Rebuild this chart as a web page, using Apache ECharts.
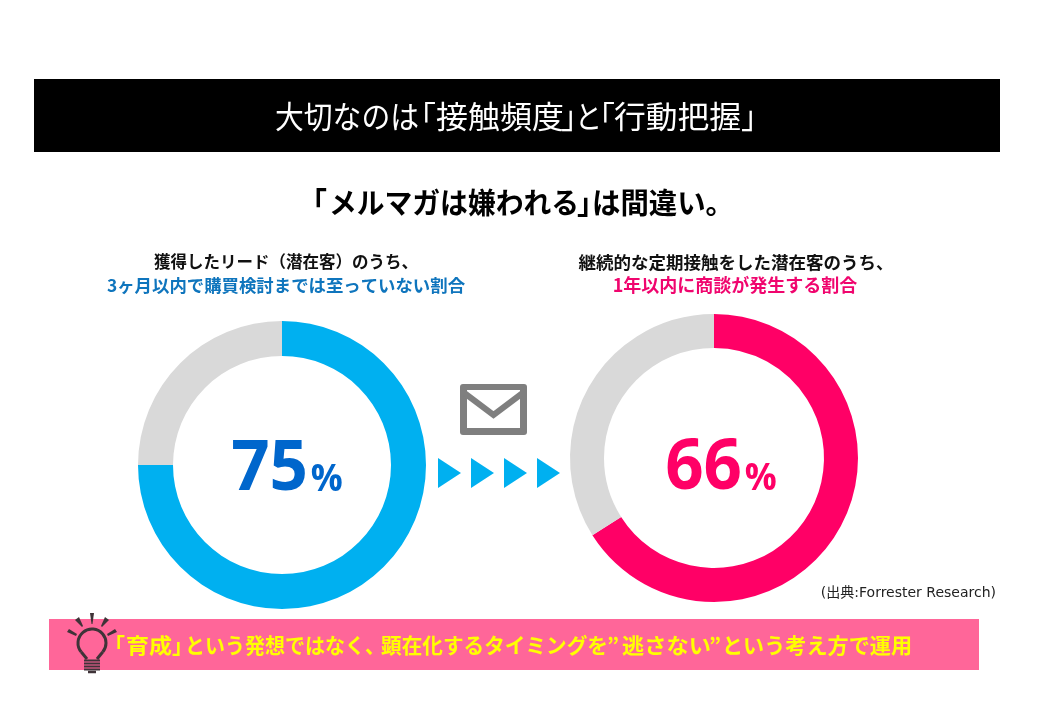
<!DOCTYPE html>
<html><head><meta charset="utf-8">
<style>html,body{margin:0;padding:0;background:#fff}#c{width:1040px;height:720px}</style>
<script src="https://cdn.jsdelivr.net/npm/echarts@6/dist/echarts.min.js"></script>
</head><body><div id="c"></div>
<script>
const leftCategories = ['至っていない', 'その他'];
const leftValues = [75, 25];
const rightCategories = ['商談が発生', 'その他'];
const rightValues = [66, 34];
const headerParts = ['大切なのは', '「', '接触頻度', '」', 'と', '「', '行動把握', '」'];
const subtitleParts = ['「', 'メルマガは嫌われる', '」', 'は間違い。'];
const leftCaption = ['獲得したリード（潜在客）のうち、', '3ヶ月以内で購買検討までは至っていない割合'];
const rightCaption = ['継続的な定期接触をした潜在客のうち、', '1年以内に商談が発生する割合'];
const sourceText = '(出典:Forrester Research)';
const bannerParts = ['「', '育成', '」', 'という発想ではなく、', '顕在化するタイミングを', '”', '逃さない', '”', 'という考え方で運用'];

const JP = '"Noto Sans CJK JP","Noto Sans",sans-serif';
const NUM = '"Open Sans","Noto Sans",sans-serif';
const BLUE = '#00b0f0', PINK = '#ff0066', GREY = '#d9d9d9', INK = '#3f3338';

function pie(cats, vals, color, center, radius) {
  return {
    type: 'pie', center, radius, startAngle: 90, clockwise: true, silent: true,
    label: {show: false}, labelLine: {show: false},
    data: cats.map((n, i) => ({name: n, value: vals[i], itemStyle: {color: i === 0 ? color : GREY}}))
  };
}
function text(x, y, t, size, color, weight, align, family) {
  return {type: 'text', x, y, silent: true, z: 10, style: {
    text: t, fontSize: size, fill: color, fontWeight: weight || 'normal',
    fontFamily: family || JP, align: align || 'center', verticalAlign: 'middle'}};
}
// a run of glyphs placed from its left edge, fitted to a width
function seg(t, x, width, y, size, color, weight) {
  const el = text(x, y, t, size, color, weight, 'left');
  el.scaleX = width / (t.length * size);
  return el;
}
function pct(x, y, v, color) {
  return {type: 'text', x, y, scaleX: 0.96, silent: true, z: 10, style: {
    text: '{a|' + v + '}{b|%}', align: 'center', verticalAlign: 'middle',
    rich: {a: {fontSize: 70, fontWeight: 'bold', fontFamily: NUM, fill: color},
           b: {fontSize: 37, fontWeight: 'bold', fontFamily: NUM, fill: color, padding: [20, 0, 0, 3]}}}};
}
function tri(x) {
  return {type: 'polygon', silent: true, shape: {points: [[x, 458], [x + 23, 473], [x, 488]]}, style: {fill: BLUE}};
}
function ln(a, b, c, d, w, col) {
  return {type: 'line', silent: true, z: 12, shape: {x1: a, y1: b, x2: c, y2: d},
    style: {stroke: col || INK, lineWidth: w}};
}
function wedge(pts) {
  return {type: 'polygon', silent: true, z: 12, shape: {points: pts}, style: {fill: INK}};
}
const H = 116, S = 203, B = 645;
const graphics = [
  {type: 'rect', silent: true, shape: {x: 34, y: 79, width: 966, height: 73}, style: {fill: '#000'}},
  seg(headerParts[0], 275, 144, H, 31, '#fff'),
  seg(headerParts[1], 405, 31, H, 31, '#fff'),
  seg(headerParts[2], 436, 128, H, 31, '#fff'),
  seg(headerParts[3], 561, 31, H, 31, '#fff'),
  seg(headerParts[4], 575, 27, H, 31, '#fff'),
  seg(headerParts[5], 584, 31, H, 31, '#fff'),
  seg(headerParts[6], 614, 127, H, 31, '#fff'),
  seg(headerParts[7], 741, 31, H, 31, '#fff'),
  seg(subtitleParts[0], 298, 29, S, 29, '#000', 'bold'),
  seg(subtitleParts[1], 329, 250, S, 29, '#000', 'bold'),
  seg(subtitleParts[2], 577, 29, S, 29, '#000', 'bold'),
  seg(subtitleParts[3], 592, 142, S, 29, '#000', 'bold'),
  text(286, 262, leftCaption[0], 16.5, '#111', 'bold'),
  text(286, 285, leftCaption[1], 17.4, '#0f75bd', 'bold'),
  text(736, 262, rightCaption[0], 17.5, '#111', 'bold'),
  text(735, 285, rightCaption[1], 18, '#f0056e', 'bold'),
  pct(287, 470, leftValues[0], '#0066cc'),
  pct(721, 469, rightValues[0], PINK),
  {type: 'rect', silent: true, shape: {x: 460, y: 384, width: 67, height: 51, r: 3}, style: {fill: '#7f7f7f'}},
  {type: 'rect', silent: true, z: 3, shape: {x: 467, y: 390, width: 53, height: 38}, style: {fill: '#fff'}},
  {type: 'polyline', silent: true, z: 4, shape: {points: [[465, 393.5], [493.5, 415], [522, 393.5]]},
    style: {stroke: '#7f7f7f', lineWidth: 6, fill: null}},
  tri(438), tri(471), tri(504), tri(537),
  text(996, 593, sourceText, 14, '#222', 'normal', 'right', '"DejaVu Sans",' + JP),
  {type: 'rect', silent: true, shape: {x: 49, y: 619, width: 930, height: 51}, style: {fill: '#ff6699'}},
  seg(bannerParts[0], 104, 21, B, 21, '#ffff00', 'bold'),
  seg(bannerParts[1], 126, 46, B, 21, '#ffff00', 'bold'),
  seg(bannerParts[2], 172, 21, B, 21, '#ffff00', 'bold'),
  seg(bannerParts[3], 185, 200, B, 21, '#ffff00', 'bold'),
  seg(bannerParts[4], 381, 227, B, 21, '#ffff00', 'bold'),
  seg(bannerParts[5], 607, 21, B, 21, '#ffff00', 'bold'),
  seg(bannerParts[6], 622, 89, B, 21, '#ffff00', 'bold'),
  seg(bannerParts[7], 709, 21, B, 21, '#ffff00', 'bold'),
  seg(bannerParts[8], 722, 190, B, 21, '#ffff00', 'bold'),
  {type: 'arc', silent: true, z: 12, shape: {cx: 92, cy: 643, r: 14, startAngle: 140 * Math.PI / 180, endAngle: 400 * Math.PI / 180, clockwise: true},
    style: {stroke: INK, lineWidth: 3, fill: 'none'}},
  ln(81.3, 652, 87, 659, 3), ln(102.7, 652, 97, 659, 3),
  ln(84, 660.5, 100, 660.5, 2), ln(84, 663.5, 100, 663.5, 2), ln(84, 666.5, 100, 666.5, 2), ln(84, 669.5, 100, 669.5, 2),
  ln(88, 672, 96, 672, 2.5),
  wedge([[90, 613], [94, 613], [92.5, 624], [91.5, 624]]),
  wedge([[75, 620], [79, 617], [83, 626], [82, 627]]),
  wedge([[105, 617], [109, 620], [102, 627], [101, 626]]),
  wedge([[69, 629], [67, 632], [76, 636], [77, 634]]),
  wedge([[115, 629], [117, 632], [108, 636], [107, 634]])
];
const chart = echarts.init(document.getElementById('c'), null, {renderer: 'canvas'});
chart.setOption({
  animation: false, backgroundColor: '#fff',
  series: [
    pie(leftCategories, leftValues, BLUE, [282, 465], [109, 144]),
    pie(rightCategories, rightValues, PINK, [714, 458], [110, 144])
  ],
  graphic: graphics
});
</script></body></html>
